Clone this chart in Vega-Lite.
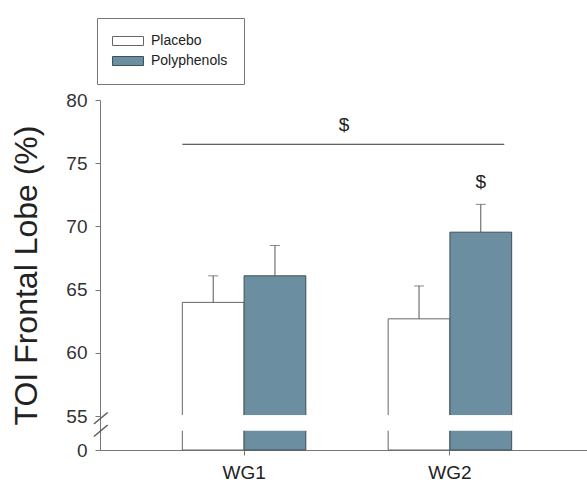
{
  "$schema": "https://vega.github.io/schema/vega-lite/v6.json",
  "width": 487,
  "height": 350,
  "autosize": {"type": "none"},
  "padding": {"left": 100, "top": 100, "right": 0, "bottom": 34},
  "background": "white",
  "config": {
    "view": {"stroke": null},
    "font": "Liberation Sans",
    "axis": {"labelFont": "Liberation Sans", "titleFont": "Liberation Sans"},
    "legend": {"labelFont": "Liberation Sans"},
    "text": {"font": "Liberation Sans"}
  },
  "datasets": {
    "bars": [
      {"group": "WG1", "condition": "Placebo", "mean": 64.0, "upper": 66.1},
      {"group": "WG1", "condition": "Polyphenols", "mean": 66.1, "upper": 68.5},
      {"group": "WG2", "condition": "Placebo", "mean": 62.7, "upper": 65.3},
      {"group": "WG2", "condition": "Polyphenols", "mean": 69.55, "upper": 71.75}
    ],
    "marks": [
      {"group": "WG2", "condition": "Polyphenols", "label": "$", "y": 73.55}
    ],
    "overall": [
      {"label": "$", "line": 76.5, "y": 78.0}
    ]
  },
  "layer": [
    {
      "data": {"name": "bars"},
      "layer": [
        {
          "mark": {"type": "bar", "strokeWidth": 1},
          "encoding": {
            "x": {
              "field": "group", "type": "nominal",
              "scale": {"range": [0, 494], "paddingInner": 0.4, "paddingOuter": 0.4},
              "axis": {"title": null, "labelAngle": 0, "labelFontSize": 19, "labelColor": "#222", "tickSize": 5, "tickColor": "#777", "domainColor": "#777", "labelPadding": 8, "bandPosition": 0.5}
            },
            "xOffset": {"field": "condition", "type": "nominal", "scale": {"paddingInner": 0, "paddingOuter": 0}},
            "y": {
              "field": "mean", "type": "quantitative",
              "scale": {"domain": [52.33, 80], "nice": false, "zero": false},
              "axis": {
                "orient": "left",
                "values": [52.33, 55, 60, 65, 70, 75, 80],
                "labelExpr": "datum.value < 53 ? '0' : datum.label",
                "title": "TOI Frontal Lobe (%)", "titleFontSize": 32, "titleFontWeight": "normal", "titleColor": "#222", "titlePadding": 22,
                "labelFontSize": 19, "labelColor": "#333", "labelPadding": 8,
                "tickSize": 5, "tickColor": "#777", "domainColor": "#777", "grid": false
              }
            },
            "y2": {"datum": 52.33},
            "fill": {
              "field": "condition", "type": "nominal",
              "scale": {"domain": ["Placebo", "Polyphenols"], "range": ["#ffffff", "#6b8fa1"]},
              "legend": {
                "title": null, "orient": "none", "legendX": -3, "legendY": -82, "direction": "vertical",
                "padding": 16, "strokeColor": "#777", "fillColor": "white",
                "labelFontSize": 14, "labelColor": "#222",
                "symbolType": "M-2.385,-0.69H2.385V0.69H-2.385Z", "symbolSize": 169, "symbolOffset": 8,
                "labelOffset": 16, "rowPadding": 6, "symbolStrokeColor": "#555", "symbolStrokeWidth": 1, "symbolOpacity": 1
              }
            },
            "stroke": {
              "field": "condition", "type": "nominal",
              "scale": {"domain": ["Placebo", "Polyphenols"], "range": ["#666666", "#3f5058"]},
              "legend": null
            }
          }
        },
        {
          "mark": {"type": "rect", "fill": "white", "stroke": "white", "strokeWidth": 2},
          "encoding": {
            "x": {"field": "group", "type": "nominal"},
            "y": {"datum": 55},
            "y2": {"datum": 53.95}
          }
        },
        {
          "mark": {"type": "rule", "color": "#555", "strokeWidth": 1},
          "encoding": {
            "x": {"field": "group", "type": "nominal"},
            "xOffset": {"field": "condition", "type": "nominal"},
            "y": {"field": "mean", "type": "quantitative"},
            "y2": {"field": "upper"}
          }
        },
        {
          "mark": {"type": "tick", "color": "#555", "size": 10, "thickness": 1},
          "encoding": {
            "x": {"field": "group", "type": "nominal"},
            "xOffset": {"field": "condition", "type": "nominal"},
            "y": {"field": "upper", "type": "quantitative"}
          }
        },
        {
          "data": {"name": "marks"},
          "mark": {"type": "text", "fontSize": 19, "color": "#222", "baseline": "middle"},
          "encoding": {
            "x": {"field": "group", "type": "nominal"},
            "xOffset": {"field": "condition", "type": "nominal"},
            "y": {"field": "y", "type": "quantitative"},
            "text": {"field": "label"}
          }
        },
        {
          "data": {"name": "overall"},
          "mark": {"type": "rule", "color": "#333", "strokeWidth": 1},
          "encoding": {
            "x": {"datum": "WG1", "bandPosition": 0},
            "x2": {"datum": "WG2", "bandPosition": 0.94},
            "y": {"field": "line", "type": "quantitative"}
          }
        },
        {
          "data": {"name": "overall"},
          "mark": {"type": "text", "fontSize": 19, "color": "#222", "baseline": "middle"},
          "encoding": {
            "x": {"datum": "WG1", "bandPosition": 1.31},
            "y": {"field": "y", "type": "quantitative"},
            "text": {"field": "label"}
          }
        }
      ]
    },
    {
      "data": {"values": [{"v": 54.9}]},
      "mark": {"type": "point", "opacity": 0},
      "encoding": {
        "y": {
          "field": "v", "type": "quantitative",
          "scale": {"domain": [52.33, 80], "nice": false, "zero": false},
          "axis": {
            "orient": "left", "values": [54.9, 53.93], "labelExpr": "'—'",
            "ticks": false, "domain": false, "grid": false, "title": null,
            "labelAngle": -40, "labelAlign": "center", "labelBaseline": "middle",
            "labelPadding": 0, "labelFontSize": 18, "labelColor": "#555",
            "labelOverlap": false, "labelBound": false, "labelFlush": false
          }
        }
      }
    }
  ],
  "resolve": {"scale": {"y": "independent"}, "axis": {"y": "independent"}}
}
